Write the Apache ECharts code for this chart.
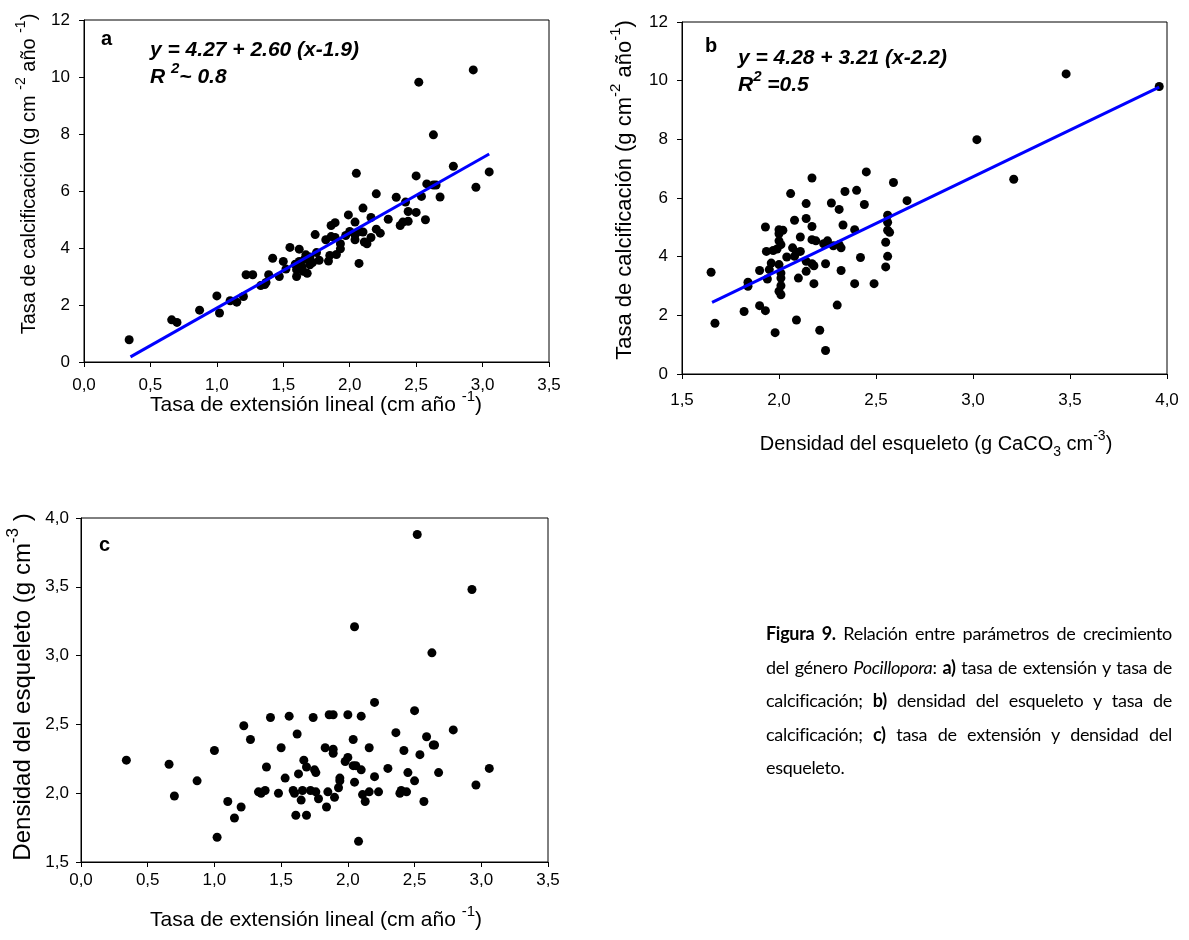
<!DOCTYPE html>
<html>
<head>
<meta charset="utf-8">
<title>Figura 9</title>
<script src="https://cdn.jsdelivr.net/npm/echarts@6/dist/echarts.min.js"></script>
<style>
body{margin:0;background:#fff;}
#wrap{position:relative;width:1189px;height:940px;}
#main{width:1189px;height:940px;}
.caption{position:absolute;left:766px;top:617px;width:406px;font-family:Lato,"Open Sans",sans-serif;font-size:18px;letter-spacing:-0.3px;line-height:33.5px;color:#000;}
.caption div{text-align:justify;text-align-last:justify;white-space:nowrap;}
.caption div.last{text-align-last:left;}
</style>
</head>
<body>
<div id="wrap">
  <div id="main"></div>
  <div class="caption">
    <div><b>Figura 9.</b> Relación entre parámetros de crecimiento</div>
    <div>del género <i>Pocillopora</i>: <b>a)</b> tasa de extensión y tasa de</div>
    <div>calcificación; <b>b)</b> densidad del esqueleto y tasa de</div>
    <div>calcificación; <b>c)</b> tasa de extensión y densidad del</div>
    <div class="last">esqueleto.</div>
  </div>
</div>
<script>
// a) extension (cm/año) vs calcificacion
var pointsA = [
  [0.34,0.78],[0.66,1.48],[0.70,1.39],[0.87,1.82],[1.00,2.32],[1.02,1.72],[1.10,2.15],[1.15,2.10],
  [1.20,2.30],[1.22,3.06],[1.27,3.06],[1.33,2.68],[1.36,2.72],[1.37,2.79],[1.39,3.06],[1.42,3.64],
  [1.47,3.00],[1.50,3.53],[1.52,3.26],[1.55,4.02],[1.59,3.43],[1.60,3.24],[1.60,3.00],[1.62,3.96],
  [1.62,3.53],[1.64,3.35],[1.65,3.18],[1.66,3.61],[1.67,3.76],[1.68,3.11],[1.70,3.68],[1.70,3.41],
  [1.72,3.49],[1.74,4.47],[1.75,3.84],[1.77,3.57],[1.82,4.29],[1.84,3.54],[1.85,3.74],[1.86,4.79],
  [1.89,4.89],[1.86,4.40],[1.89,4.37],[1.90,3.77],[1.93,3.97],[1.93,4.15],[1.97,4.44],[1.99,5.16],
  [2.00,4.58],[2.04,4.91],[2.04,4.46],[2.04,4.29],[2.05,6.62],[2.07,3.46],[2.08,4.58],[2.10,4.56],
  [2.10,5.40],[2.11,4.21],[2.13,4.15],[2.16,5.07],[2.16,4.37],[2.20,4.66],[2.20,5.90],[2.23,4.52],
  [2.29,5.01],[2.35,5.78],[2.38,4.79],[2.40,4.91],[2.42,5.61],[2.44,4.94],[2.44,5.28],[2.50,5.25],
  [2.50,6.53],[2.52,9.82],[2.54,5.81],[2.57,4.99],[2.58,6.25],[2.63,7.97],[2.63,6.21],[2.65,6.21],
  [2.68,5.79],[2.78,6.87],[2.93,10.25],[2.95,6.13],[3.05,6.67]
];
var fitA = [[0.35,0.18],[3.05,7.30]];

// b) densidad vs calcificacion
var pointsB = [
  [1.65,3.47],[1.67,1.73],[1.82,2.13],[1.84,3.13],[1.84,2.99],[1.90,3.53],[1.90,2.33],[1.93,5.01],
  [1.93,2.16],[1.935,4.18],[1.94,3.24],[1.95,3.56],[1.96,3.78],[1.97,4.21],[1.98,1.41],[1.99,4.26],
  [2.00,4.78],[2.00,4.92],[2.02,4.90],[2.00,4.54],[2.01,4.41],[2.00,3.73],[2.01,3.44],[2.01,3.27],
  [2.01,3.01],[2.00,2.82],[2.01,2.70],[2.04,3.99],[2.06,6.15],[2.07,4.30],[2.08,5.24],[2.08,4.01],
  [2.09,4.15],[2.09,1.84],[2.10,3.27],[2.11,4.18],[2.11,4.67],[2.14,3.50],[2.14,3.84],[2.14,5.81],
  [2.14,5.30],[2.17,6.68],[2.17,5.03],[2.17,4.58],[2.17,3.76],[2.18,3.69],[2.18,3.08],[2.19,4.54],
  [2.21,1.49],[2.23,4.44],[2.24,3.76],[2.24,0.80],[2.25,4.54],[2.27,5.83],[2.28,4.37],[2.30,2.35],
  [2.31,5.61],[2.31,4.41],[2.32,4.30],[2.32,3.53],[2.33,5.08],[2.34,6.22],[2.39,4.92],[2.39,3.08],
  [2.40,6.26],[2.42,3.97],[2.44,5.78],[2.45,6.89],[2.49,3.08],[2.55,4.49],[2.55,3.65],[2.56,5.41],
  [2.56,4.01],[2.56,5.17],[2.56,4.90],[2.57,4.83],[2.59,6.53],[2.66,5.91],[3.02,7.99],[3.21,6.64],
  [3.48,10.23],[3.96,9.80]
];
var fitB = [[1.655,2.44],[3.96,9.78]];

// c) extension vs densidad
var pointsC = [
  [0.34,2.24],[0.66,2.21],[0.70,1.98],[0.87,2.09],[1.00,2.31],[1.02,1.68],[1.10,1.94],[1.15,1.82],
  [1.20,1.90],[1.22,2.49],[1.27,2.39],[1.33,2.01],[1.35,2.00],[1.38,2.02],[1.39,2.19],[1.42,2.55],
  [1.48,2.00],[1.50,2.33],[1.53,2.11],[1.56,2.56],[1.59,2.02],[1.60,2.00],[1.61,1.84],[1.62,2.43],
  [1.63,2.14],[1.65,1.95],[1.66,2.02],[1.67,2.24],[1.69,1.84],[1.69,2.19],[1.72,2.02],[1.74,2.55],
  [1.75,2.17],[1.76,2.15],[1.76,2.01],[1.78,1.96],[1.83,2.33],[1.84,1.90],[1.85,2.01],[1.86,2.57],
  [1.89,2.32],[1.89,2.57],[1.89,2.29],[1.90,1.97],[1.93,2.04],[1.94,2.09],[1.94,2.11],[1.98,2.23],
  [2.00,2.57],[2.00,2.26],[2.04,2.39],[2.04,2.20],[2.05,2.08],[2.05,3.21],[2.06,2.20],[2.08,1.65],
  [2.10,2.17],[2.10,2.56],[2.11,1.99],[2.13,1.94],[2.16,2.33],[2.16,2.01],[2.20,2.12],[2.20,2.66],
  [2.23,2.01],[2.30,2.18],[2.36,2.44],[2.39,2.00],[2.40,2.02],[2.42,2.31],[2.44,2.01],[2.45,2.15],
  [2.50,2.09],[2.50,2.60],[2.52,3.88],[2.54,2.28],[2.57,1.94],[2.59,2.41],[2.63,3.02],[2.64,2.35],
  [2.65,2.35],[2.68,2.15],[2.79,2.46],[2.93,3.48],[2.96,2.06],[3.06,2.18]
];

var FONT = "'Liberation Sans', Arial, sans-serif";
var chart = echarts.init(document.getElementById('main'), null, {renderer: 'canvas'});

function comma(v) { return v.toFixed(1).replace('.', ','); }
function entero(v) { return String(v); }

function xAxisDe(idx, min, max, fmt, margin) {
  return {
    gridIndex: idx, type: 'value', min: min, max: max, interval: 0.5,
    axisLine: {show: true, onZero: false, lineStyle: {color: '#000', width: 1}},
    axisTick: {show: true, inside: false, length: 5, lineStyle: {color: '#000'}},
    axisLabel: {color: '#000', fontSize: 17, fontFamily: FONT, margin: margin, formatter: fmt},
    splitLine: {show: false}
  };
}
function yAxisDe(idx, min, max, step, fmt, margin) {
  return {
    gridIndex: idx, type: 'value', min: min, max: max, interval: step,
    axisLine: {show: true, onZero: false, lineStyle: {color: '#000', width: 1}},
    axisTick: {show: true, inside: false, length: 5, lineStyle: {color: '#000'}},
    axisLabel: {color: '#000', fontSize: 17, fontFamily: FONT, margin: margin, formatter: fmt},
    splitLine: {show: false}
  };
}

// texto con superindices / subindices
function texto(str, x, y, size, rot, extra) {
  var el = {
    type: 'text', x: x, y: y, rotation: rot || 0, silent: true,
    style: {
      text: str,
      fill: '#000',
      font: (extra || '') + ' ' + size + 'px ' + FONT,
      lineHeight: Math.round(size * 1.5),
      align: 'center',
      verticalAlign: 'middle',
      rich: {
        sup: {fontSize: Math.round(size * 0.7), fontFamily: FONT, lineHeight: Math.round(size * 0.7), verticalAlign: 'top', fill: '#000'},
        sub: {fontSize: Math.round(size * 0.7), fontFamily: FONT, lineHeight: Math.round(size * 0.7), verticalAlign: 'bottom', fill: '#000'}
      }
    }
  };
  return el;
}
function etiqueta(str, x, y) {
  var el = texto(str, x, y, 21, 0, 'italic bold');
  el.style.align = 'left';
  el.style.rich.sup.fontWeight = 'bold';
  el.style.rich.sup.fontStyle = 'italic';
  return el;
}

var puntos = {symbolSize: 9, itemStyle: {color: '#000', opacity: 1}};

var option = {
  backgroundColor: '#fff',
  animation: false,
  grid: [
    {left: 84, top: 20, width: 465, height: 342, show: true, borderColor: '#000', borderWidth: 1, backgroundColor: 'transparent'},
    {left: 682, top: 22, width: 485, height: 352, show: true, borderColor: '#000', borderWidth: 1, backgroundColor: 'transparent'},
    {left: 81, top: 518, width: 467, height: 344, show: true, borderColor: '#000', borderWidth: 1, backgroundColor: 'transparent'}
  ],
  xAxis: [
    xAxisDe(0, 0, 3.5, comma, 15),
    xAxisDe(1, 1.5, 4, comma, 18),
    xAxisDe(2, 0, 3.5, comma, 10)
  ],
  yAxis: [
    yAxisDe(0, 0, 12, 2, entero, 14),
    yAxisDe(1, 0, 12, 2, entero, 14),
    yAxisDe(2, 1.5, 4, 0.5, comma, 12)
  ],
  series: [
    {type: 'scatter', xAxisIndex: 0, yAxisIndex: 0, data: pointsA, symbolSize: puntos.symbolSize, itemStyle: puntos.itemStyle},
    {type: 'line', xAxisIndex: 0, yAxisIndex: 0, data: fitA, showSymbol: false, z: 5, lineStyle: {color: '#0000ff', width: 3}},
    {type: 'scatter', xAxisIndex: 1, yAxisIndex: 1, data: pointsB, symbolSize: puntos.symbolSize, itemStyle: puntos.itemStyle},
    {type: 'line', xAxisIndex: 1, yAxisIndex: 1, data: fitB, showSymbol: false, z: 5, lineStyle: {color: '#0000ff', width: 3}},
    {type: 'scatter', xAxisIndex: 2, yAxisIndex: 2, data: pointsC, symbolSize: puntos.symbolSize, itemStyle: puntos.itemStyle}
  ],
  graphic: [
    // titulos de ejes
    texto('Tasa de extensión lineal (cm año {sup|-1})', 316, 405, 21, 0),
    texto('Tasa de calcificación (g cm {sup|-2} año {sup|-1})', 29, 174, 20, Math.PI / 2),
    texto('Densidad del esqueleto (g CaCO{sub|3} cm{sup|-3})', 936, 444, 20, 0),
    texto('Tasa de calcificación (g cm{sup|-2} año{sup|-1})', 625, 190, 22, Math.PI / 2),
    texto('Tasa de extensión lineal (cm año {sup|-1})', 316, 920, 21, 0),
    texto('Densidad del esqueleto (g cm{sup|-3} )', 23, 687, 24, Math.PI / 2),
    // letras de panel
    {type: 'text', x: 101, y: 39, silent: true, style: {text: 'a', font: 'bold 20px ' + FONT, fill: '#000', verticalAlign: 'middle'}},
    {type: 'text', x: 705, y: 46, silent: true, style: {text: 'b', font: 'bold 20px ' + FONT, fill: '#000', verticalAlign: 'middle'}},
    {type: 'text', x: 99, y: 545, silent: true, style: {text: 'c', font: 'bold 20px ' + FONT, fill: '#000', verticalAlign: 'middle'}},
    // ecuaciones
    etiqueta('y = 4.27 + 2.60 (x-1.9)', 150, 50),
    etiqueta('R {sup|2}~ 0.8', 150, 77),
    etiqueta('y = 4.28 + 3.21 (x-2.2)', 738, 58),
    etiqueta('R{sup|2} =0.5', 738, 85)
  ]
};
chart.setOption(option);
</script>
</body>
</html>
